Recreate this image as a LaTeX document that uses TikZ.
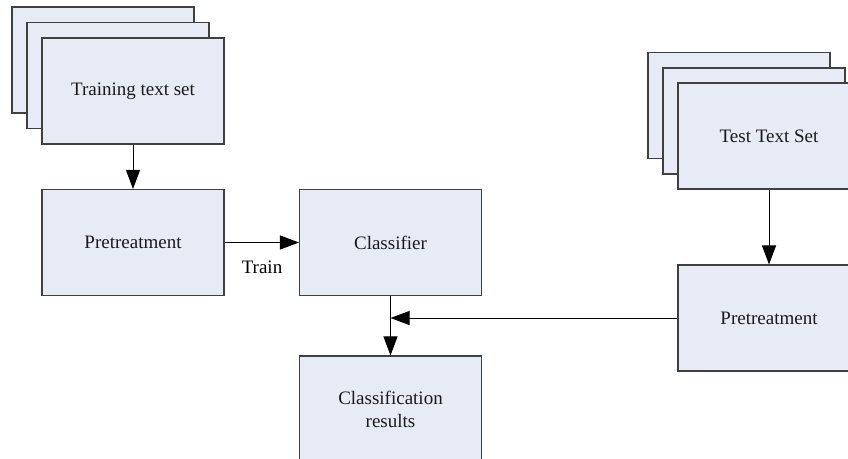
\documentclass[tikz,border=0pt]{standalone}
\usepackage{fontspec}
\setmainfont{Liberation Serif}
\usetikzlibrary{arrows.meta}
\definecolor{boxfill}{HTML}{E6EBF6}
\definecolor{boxline}{HTML}{404040}
\begin{document}
\begin{tikzpicture}[x=1pt,y=-1pt,
  box/.style={draw=boxline,line width=1.1pt,fill=boxfill,minimum width=182pt,minimum height=106pt,inner sep=0pt,font=\fontsize{19}{23}\selectfont,align=center,text=black!90},
  arr/.style={draw=black,line width=1pt,-{Triangle[length=19pt,width=14pt]}},
  lbl/.style={font=\fontsize{19}{23}\selectfont,inner sep=0pt}]
\useasboundingbox (0,0) rectangle (848,458);
\clip (0,0) rectangle (848,458);
% training stack
\node[box] (trb) at (103,60) {};
\node[box] (trm) at (118,75.5) {};
\node[box] (trf) at (133,91) {Training text set};
% test stack
\node[box] (teb) at (739,105.5) {};
\node[box] (tem) at (754,121) {};
\node[box] (tef) at (769,136) {Test Text Set};
% main boxes
\node[box] (pre1) at (133,242.5) {Pretreatment};
\node[box] (cls) at (390.5,242.5) {Classifier};
\node[box] (res) at (390.5,409) {Classification\\results};
\node[box] (pre2) at (769,318) {Pretreatment};
\coordinate (j) at (cls.south |- pre2.west);
% connectors
\draw[arr] (trf.south) -- (pre1.north);
\draw[arr] (tef.south) -- (pre2.north);
\draw[arr] (pre1.east) -- (cls.west);
\node[lbl] (train) at (262,267) {Train};
\draw[arr] (cls.south) -- (res.north);
\draw[arr] (pre2.west) -- (j);
\end{tikzpicture}
\end{document}
